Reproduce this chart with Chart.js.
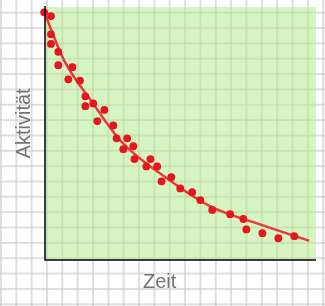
<!DOCTYPE html>
<html lang="de">
<head>
    <meta charset="UTF-8">
    <title>Aktivität über Zeit</title>
    <script src="https://cdn.jsdelivr.net/npm/chart.js"></script>
    <style>
        html, body {
            margin: 0;
            padding: 0;
        }
        body {
            width: 325px;
            height: 306px;
            overflow: hidden;
            background-color: #ffffff;
            /* Karopapier */
            background-image:
                linear-gradient(to right, rgba(200, 200, 200, 0.6) 2px, transparent 2px),
                linear-gradient(to bottom, rgba(200, 200, 200, 0.6) 2px, transparent 2px);
            background-size: 15.35px 15.35px;
            background-position: 0px -3.6px;
        }
        #chart {
            display: block;
        }
    </style>
</head>
<body>
<canvas id="chart" width="325" height="306"></canvas>

<script>
    // Messpunkte
    const zeitMessung = [-0.3, 2.2, 2.2, 2.2, 4.9, 4.9, 10.1, 8.6, 12.9, 14.9, 14.9, 17.8, 21.9, 19.3, 25.2, 26.4, 30.3, 28.9,
        32.6, 33.0, 38.9, 37.4, 41.4, 43.0, 46.6, 49.9, 54.3, 57.3, 61.7, 68.3, 73.2, 74.3, 80.2, 86.1, 92.0];
    const aktivitaetMessung = [97.9, 96.4, 89.2, 85.4, 82.3, 77.0, 76.2, 71.4, 70.9, 64.7, 60.8, 61.9, 59.3, 54.9, 53.2, 48.1, 48.1, 43.8,
        45.0, 39.9, 39.9, 37.0, 37.0, 31.1, 32.7, 28.3, 26.8, 23.7, 19.8, 18.1, 16.2, 12.1, 10.6, 8.6, 9.4];

    // Ausgleichskurve
    const zeitKurve = [-0.3, 7, 17, 28, 46, 61, 81, 97.5];
    const aktivitaetKurve = [98, 79, 63, 47, 31.5, 21.2, 13.5, 7.6];

    const achsenTitel = { x: 'Zeit', y: 'Aktivität' };

    const toPoints = (xs, ys) => xs.map((x, i) => ({ x: x, y: ys[i] }));

    // Grüner Hintergrund, Achsen und Achsentitel
    const plotFlaeche = {
        id: 'plotFlaeche',
        beforeDatasetsDraw(chart) {
            const { ctx, chartArea: a } = chart;
            ctx.save();
            ctx.fillStyle = 'rgba(176, 236, 134, 0.5)';
            ctx.fillRect(a.left, a.top, a.right - a.left, a.bottom - a.top);
            ctx.restore();
        },
        afterDraw(chart) {
            const { ctx, chartArea: a } = chart;
            ctx.save();
            ctx.strokeStyle = '#000000';
            ctx.lineWidth = 1.5;
            ctx.beginPath();
            ctx.moveTo(a.left, a.top - 1);
            ctx.lineTo(a.left, a.bottom);
            ctx.lineTo(a.right, a.bottom);
            ctx.stroke();

            ctx.fillStyle = '#737373';
            ctx.font = '20px "Liberation Sans", Arial, sans-serif';
            ctx.textAlign = 'center';
            ctx.textBaseline = 'alphabetic';
            ctx.fillText(achsenTitel.x, a.left + (a.right - a.left) * 0.423, a.bottom + 28);

            ctx.translate(29.5, a.top + (a.bottom - a.top) * 0.46);
            ctx.rotate(-Math.PI / 2);
            ctx.fillText(achsenTitel.y, 0, 0);
            ctx.restore();
        }
    };

    new Chart(document.getElementById('chart').getContext('2d'), {
        type: 'scatter',
        data: {
            datasets: [{
                label: 'Messwerte',
                data: toPoints(zeitMessung, aktivitaetMessung),
                backgroundColor: '#e5161d',
                borderColor: '#e5161d',
                pointRadius: 3.9,
                pointHoverRadius: 3.9,
                borderWidth: 0,
                clip: false,
                order: 0
            }, {
                label: 'Kurve',
                data: toPoints(zeitKurve, aktivitaetKurve),
                showLine: true,
                borderColor: '#e53b3b',
                borderWidth: 2.5,
                pointRadius: 0,
                cubicInterpolationMode: 'monotone',
                clip: false,
                order: 1
            }]
        },
        options: {
            responsive: false,
            animation: false,
            events: [],
            layout: {
                autoPadding: false,
                padding: { left: 45, right: 9, top: 7, bottom: 46 }
            },
            plugins: {
                legend: { display: false },
                tooltip: { enabled: false }
            },
            scales: {
                x: { type: 'linear', min: 0, max: 100, display: false },
                y: { type: 'linear', min: 0, max: 100, display: false }
            }
        },
        plugins: [plotFlaeche]
    });
</script>
</body>
</html>
